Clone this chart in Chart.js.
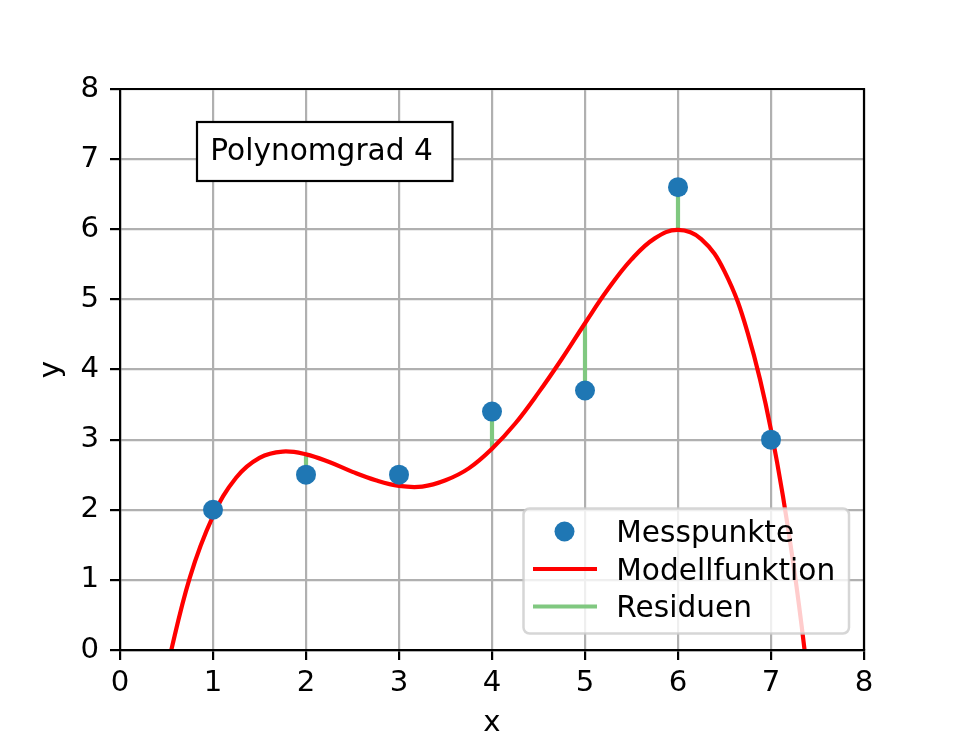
<!DOCTYPE html>
<html lang="de">
<head>
<meta charset="utf-8">
<title>Polynomgrad 4</title>
<script src="https://cdn.jsdelivr.net/npm/chart.js@4.4.1/dist/chart.umd.min.js"></script>
<style>
    html, body { margin: 0; padding: 0; background: #fff; overflow: hidden; }
    canvas { display: block; }
</style>
</head>
<body>
<canvas id="chart" width="960" height="747"></canvas>
<script>
// Messpunkte
const mesX = [1, 2, 3, 4, 5, 6, 7];
const mesY = [2, 2.5, 2.5, 3.4, 3.7, 6.6, 3];

// Modellfunktion at the measured x (other end of each residual)
const modelAtMes = [1.91, 2.79, 2.34, 2.87, 4.66, 5.99, 3.14];

// Modellfunktion
const curveX = [0.5, 0.75, 1, 1.25, 1.5, 1.75, 2, 2.25, 2.5, 2.75, 3, 3.25, 3.5, 3.75,
    4, 4.25, 4.5, 4.75, 5, 5.25, 5.5, 5.75, 6, 6.25, 6.5, 6.75, 7, 7.25, 7.5];
const curveY = [-0.28, 1.03, 1.91, 2.46, 2.74, 2.83, 2.79, 2.68, 2.54, 2.42, 2.34, 2.33, 2.42, 2.59,
    2.87, 3.23, 3.67, 4.15, 4.66, 5.15, 5.57, 5.87, 5.99, 5.86, 5.40, 4.52, 3.14, 1.14, -1.57];

// Axes
const xTicks = [0, 1, 2, 3, 4, 5, 6, 7, 8];
const yTicks = [0, 1, 2, 3, 4, 5, 6, 7, 8];
const xTitle = "x";
const yTitle = "y";

// Texts
const boxText = "Polynomgrad 4";
const legendLabels = ["Messpunkte", "Modellfunktion", "Residuen"];

const BLUE = "#1f77b4";
const RED = "#ff0000";
const GREEN = "#80c880";
const FONT = "'DejaVu Sans', 'Liberation Sans', sans-serif";
const FONT_SIZE = 29.2;
const TEXT_SIZE = 29.6;

document.addEventListener("DOMContentLoaded", function () {
    drawChart();
});

// Build residual segments, separated by gaps
function residualPoints() {
    const pts = [];
    mesX.forEach((x, i) => {
        pts.push({ x: x, y: mesY[i] });
        pts.push({ x: x, y: modelAtMes[i] });
        pts.push({ x: x, y: null });
    });
    return pts;
}

// Top and right spine, text box and legend
const overlayPlugin = {
    id: "overlay",
    afterDatasetsDraw(chart) {
        const ctx = chart.ctx;
        const a = chart.chartArea;
        ctx.save();
        ctx.strokeStyle = "#000";
        ctx.lineWidth = 2.2;
        ctx.beginPath();
        ctx.moveTo(a.left, a.top);
        ctx.lineTo(a.right, a.top);
        ctx.lineTo(a.right, a.bottom);
        ctx.stroke();
        ctx.restore();
    },
    afterDraw(chart) {
        drawTextBox(chart.ctx);
        drawLegend(chart.ctx);
    }
};

function drawTextBox(ctx) {
    ctx.save();
    ctx.fillStyle = "#fff";
    ctx.fillRect(197, 122, 255.5, 59);
    ctx.strokeStyle = "#000";
    ctx.lineWidth = 2.2;
    ctx.strokeRect(197, 122, 255.5, 59);
    ctx.fillStyle = "#000";
    ctx.font = TEXT_SIZE + "px " + FONT;
    ctx.textBaseline = "alphabetic";
    ctx.textAlign = "left";
    ctx.fillText(boxText, 210.3, 159.5);
    ctx.restore();
}

function drawLegend(ctx) {
    ctx.save();
    ctx.beginPath();
    ctx.roundRect(523.5, 508.5, 325.5, 125, 6);
    ctx.fillStyle = "rgba(255,255,255,0.8)";
    ctx.fill();
    ctx.strokeStyle = "rgba(204,204,204,0.8)";
    ctx.lineWidth = 2.5;
    ctx.stroke();

    const rows = [531.5, 569, 606.5];
    // Messpunkte marker
    ctx.fillStyle = BLUE;
    ctx.beginPath();
    ctx.arc(564.5, rows[0], 10, 0, Math.PI * 2);
    ctx.fill();
    // Modellfunktion and Residuen lines
    ctx.lineWidth = 4.2;
    ctx.strokeStyle = RED;
    ctx.beginPath();
    ctx.moveTo(533, rows[1]);
    ctx.lineTo(597, rows[1]);
    ctx.stroke();
    ctx.strokeStyle = GREEN;
    ctx.beginPath();
    ctx.moveTo(533, rows[2]);
    ctx.lineTo(597, rows[2]);
    ctx.stroke();

    ctx.fillStyle = "#000";
    ctx.font = TEXT_SIZE + "px " + FONT;
    ctx.textBaseline = "alphabetic";
    ctx.textAlign = "left";
    legendLabels.forEach((label, i) => {
        ctx.fillText(label, 616.3, rows[i] + 10.5);
    });
    ctx.restore();
}

function drawChart() {
    Chart.defaults.font.family = FONT;
    Chart.defaults.font.size = FONT_SIZE;
    Chart.defaults.color = "#000";

    const ctx = document.getElementById("chart").getContext("2d");
    new Chart(ctx, {
        type: "line",
        data: {
            datasets: [
                {
                    label: legendLabels[0],
                    data: mesX.map((x, i) => ({ x: x, y: mesY[i] })),
                    showLine: false,
                    pointRadius: 10,
                    pointBorderWidth: 0,
                    pointBackgroundColor: BLUE,
                    order: 0
                },
                {
                    label: legendLabels[1],
                    data: curveX.map((x, i) => ({ x: x, y: curveY[i] })),
                    borderColor: RED,
                    borderWidth: 4.2,
                    pointRadius: 0,
                    tension: 0.4,
                    clip: 0,
                    order: 1
                },
                {
                    label: legendLabels[2],
                    data: residualPoints(),
                    borderColor: GREEN,
                    borderWidth: 4.2,
                    pointRadius: 0,
                    spanGaps: false,
                    order: 2
                }
            ]
        },
        options: {
            responsive: false,
            animation: false,
            events: [],
            layout: { padding: { top: 89, right: 96, left: 0, bottom: 0 } },
            plugins: {
                legend: { display: false },
                tooltip: { enabled: false }
            },
            scales: {
                x: {
                    type: "linear",
                    min: xTicks[0],
                    max: xTicks[xTicks.length - 1],
                    afterBuildTicks: (scale) => { scale.ticks = xTicks.map(v => ({ value: v })); },
                    afterFit: (scale) => { scale.height = 97; },
                    ticks: { padding: 6, maxRotation: 0 },
                    grid: { color: "#b0b0b0", lineWidth: 2.2, tickLength: 10, tickColor: "#000", tickWidth: 2.2 },
                    border: { color: "#000", width: 2.2, z: 1 },
                    title: { display: true, text: xTitle, padding: { top: 0, bottom: 6 } }
                },
                y: {
                    type: "linear",
                    min: yTicks[0],
                    max: yTicks[yTicks.length - 1],
                    afterBuildTicks: (scale) => { scale.ticks = yTicks.map(v => ({ value: v })); },
                    afterFit: (scale) => { scale.width = 120; },
                    ticks: { padding: 11 },
                    grid: { color: "#b0b0b0", lineWidth: 2.2, tickLength: 10, tickColor: "#000", tickWidth: 2.2 },
                    border: { color: "#000", width: 2.2, z: 1 },
                    title: { display: true, text: yTitle, padding: { top: 34, bottom: 0 } }
                }
            }
        },
        plugins: [overlayPlugin]
    });
}
</script>
</body>
</html>
